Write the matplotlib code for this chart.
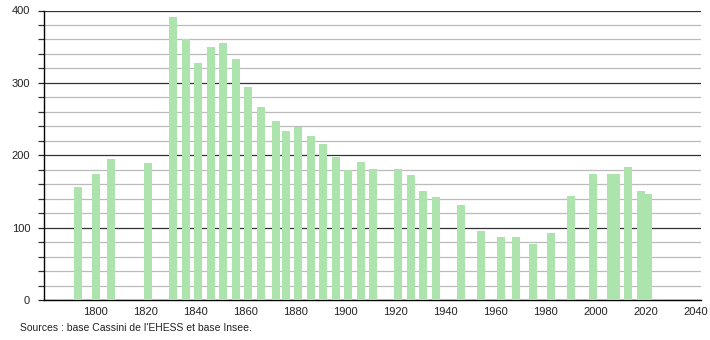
import matplotlib
matplotlib.use('Agg')
import matplotlib.pyplot as plt
from matplotlib.ticker import MultipleLocator

# recensements
annees = [1793, 1800, 1806, 1821, 1831, 1836, 1841, 1846, 1851, 1856,
          1861, 1866, 1872, 1876, 1881, 1886, 1891, 1896, 1901, 1906,
          1911, 1921, 1926, 1931, 1936, 1946, 1954, 1962, 1968, 1975,
          1982, 1990, 1999, 2006, 2008, 2013, 2018, 2021]
population = [156, 174, 195, 189, 391, 360, 327, 350, 355, 333,
              294, 266, 248, 234, 239, 226, 216, 197, 179, 190,
              181, 181, 173, 151, 143, 131, 95, 87, 87, 77,
              93, 144, 174, 174, 174, 184, 150, 147]
xticks = list(range(1800, 2041, 20))
source = "Sources : base Cassini de l'EHESS et base Insee."

plt.rcParams['font.family'] = ['Liberation Sans', 'DejaVu Sans']

fig = plt.figure(figsize=(7.1, 3.4), dpi=100)
ax = fig.add_axes([44 / 710, 40 / 340, 657 / 710, 289.5 / 340])

ax.bar(annees, population, width=3.2, color='#ade3ad', zorder=3)

ax.set_xlim(1779.4, 2042)
ax.set_ylim(0, 400)
ax.set_xticks(xticks)
ax.yaxis.set_major_locator(MultipleLocator(100))
ax.yaxis.set_minor_locator(MultipleLocator(20))

ax.grid(axis='y', which='major', color='#333333', linewidth=0.9, zorder=1)
ax.grid(axis='y', which='minor', color='#bbbbbb', linewidth=0.9, zorder=0)

for s in ['top', 'right']:
    ax.spines[s].set_visible(False)
ax.spines['left'].set_color('#000000')
ax.spines['bottom'].set_color('#000000')
ax.spines['left'].set_linewidth(1)
ax.spines['bottom'].set_linewidth(1)

ax.tick_params(axis='x', length=0, pad=5, labelsize=8, colors='#222222')
ax.tick_params(axis='y', which='major', length=4, width=0.9, pad=6,
               labelsize=8, colors='#222222')
ax.tick_params(axis='y', which='minor', length=4, width=0.9, color='#333333')

fig.text(20 / 710, 1 - 328 / 340, source, fontsize=7.5, va='center',
         ha='left', color='#222222')

plt.savefig('out.png', dpi=100)
